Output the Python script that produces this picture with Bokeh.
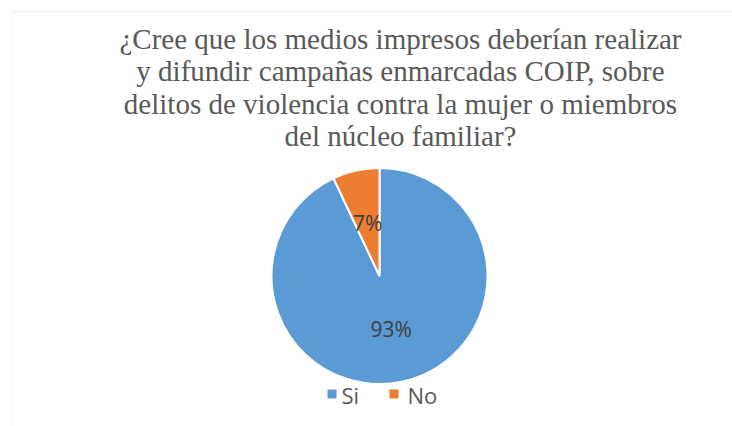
import math
from bokeh.plotting import figure
from bokeh.models import Range1d, BoxAnnotation, ColumnDataSource
from bokeh.core.properties import value
from bokeh.embed import file_html
from bokeh.resources import INLINE

# ---- data ----
categories = ["Si", "No"]
percentages = [93, 7]
colors = ["#5B9BD5", "#ED7D31"]
title_lines = [
    "¿Cree que los medios impresos deberían realizar",
    "y difundir campañas enmarcadas COIP, sobre",
    "delitos de violencia contra la mujer o miembros",
    "del núcleo familiar?",
]

W, H = 732, 426
p = figure(width=W, height=H, output_backend="svg", toolbar_location=None,
           x_range=Range1d(0, W), y_range=Range1d(0, H), min_border=0)
p.axis.visible = False
p.grid.visible = False
p.outline_line_color = None
p.background_fill_color = "white"
p.border_fill_color = "white"

# chart frame (only top/left visible inside the window)
p.add_layout(BoxAnnotation(left=11.5, right=W + 50, top=H - 11, bottom=-50,
                           fill_alpha=0, line_color="#d9d9d9", line_width=1.5))

# ---- pie ----
cx, cy, r = 379, 150.5, 108
total = sum(percentages)
starts, ends, lx, ly, labels = [], [], [], [], []
a = math.pi / 2
for v in percentages:
    sweep = 2 * math.pi * v / total
    starts.append(a)
    ends.append(a - sweep)
    mid = a - sweep / 2
    lx.append(cx + 0.5 * r * math.cos(mid))
    ly.append(cy + 0.5 * r * math.sin(mid))
    labels.append(f"{round(100 * v / total)}%")
    a -= sweep

src = ColumnDataSource(dict(start=starts, end=ends, color=colors,
                            lx=lx, ly=ly, label=labels, cat=categories))
p.wedge(x=cx, y=cy, radius=r, start_angle="start", end_angle="end",
        direction="clock", fill_color="color", line_color="white",
        line_width=2, source=src)
p.text(x="lx", y="ly", text="label", source=src, text_align="center",
       text_baseline="middle", text_font=value("Open Sans"),
       text_font_size="21px", text_color="#404040")

# ---- title ----
tx = 400
ty0, tstep = 387.4, 32.3
p.text(x=[tx] * len(title_lines), y=[ty0 - i * tstep for i in range(len(title_lines))],
       text=title_lines, text_align="center", text_baseline="alphabetic",
       text_font=value("Liberation Serif"), text_font_size="29px",
       text_color="#595959")

# ---- legend ----
leg_sq_x = [331.5, 393.5]
leg_tx = [341, 407]
p.scatter(x=leg_sq_x, y=[32.5] * 2, marker="square", size=9,
          fill_color=colors, line_color=None)
p.text(x=leg_tx, y=[32] * 2, text=categories, text_align="left",
       text_baseline="alphabetic", text_font=value("Open Sans"),
       text_font_size="22px", text_color="#595959")

open("out.html", "w").write(file_html(p, INLINE))
